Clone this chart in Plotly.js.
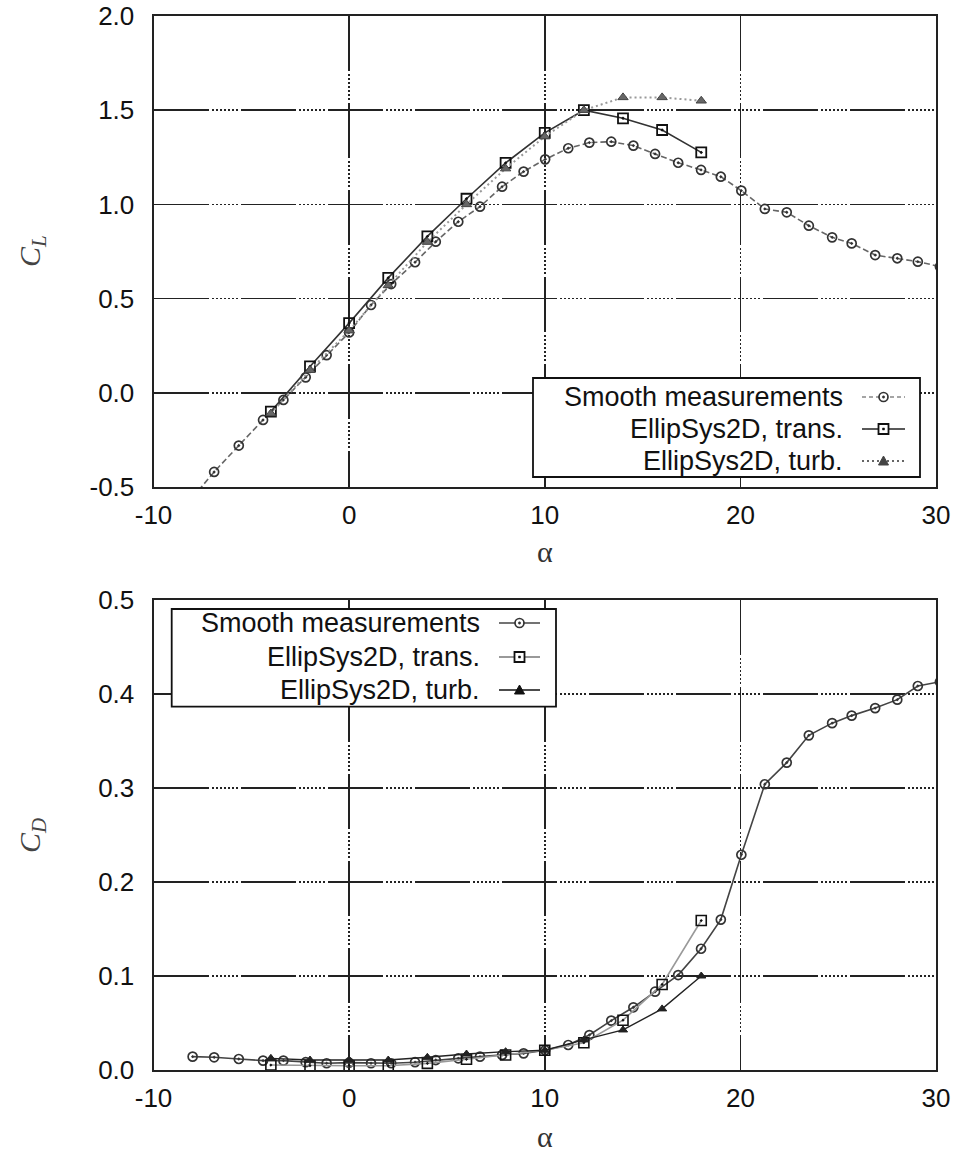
<!DOCTYPE html>
<html>
<head>
<meta charset="utf-8">
<script src="https://cdn.plot.ly/plotly-3.0.1.min.js"></script>
<style>html,body{margin:0;padding:0;background:#fff;}#chart{width:956px;height:1153px;}</style>
</head>
<body>
<div id="chart"></div>
<script>
// ---- data ----
const alphaMeas = [-8,-6.9,-5.64,-4.4,-3.36,-2.22,-1.15,0,1.12,2.15,3.37,4.43,5.58,6.69,7.82,8.92,10.02,11.2,12.28,13.4,14.53,15.64,16.82,17.99,19.0,20.05,21.25,22.37,23.5,24.69,25.69,26.89,28.02,29.07,30.2];
const clMeas = [-0.555,-0.42,-0.28,-0.144,-0.038,0.082,0.20,0.32,0.466,0.577,0.693,0.802,0.908,0.988,1.094,1.174,1.239,1.298,1.328,1.333,1.312,1.268,1.221,1.183,1.147,1.073,0.976,0.958,0.887,0.825,0.793,0.731,0.714,0.696,0.67];
const cdMeas = [0.0142,0.0135,0.0117,0.010,0.010,0.0083,0.0072,0.0078,0.0072,0.0072,0.0083,0.0106,0.0124,0.0142,0.016,0.0177,0.021,0.0266,0.0372,0.0525,0.0667,0.0833,0.101,0.129,0.160,0.229,0.304,0.327,0.356,0.369,0.377,0.385,0.394,0.4085,0.413];
const alphaSim = [-4,-2,0,2,4,6,8,10,12,14,16,18];
const clTrans = [-0.10,0.14,0.37,0.61,0.83,1.03,1.22,1.38,1.50,1.457,1.395,1.276];
const clTurb  = [-0.11,0.12,0.33,0.57,0.80,1.00,1.19,1.36,1.50,1.568,1.568,1.55];
const cdTrans = [0.0053,0.0046,0.0046,0.0046,0.0071,0.0114,0.016,0.021,0.029,0.053,0.091,0.159];
const cdTurb  = [0.0124,0.0106,0.0106,0.0106,0.0135,0.017,0.0195,0.021,0.032,0.0426,0.065,0.100];
const seriesNames = ["Smooth measurements", "EllipSys2D, trans.", "EllipSys2D, turb."];
const xTickVals = [-10, 0, 10, 20, 30];
const xTickText = ["-10", "0", "10", "20", "30"];
const clTickVals = [-0.5, 0, 0.5, 1.0, 1.5, 2.0];
const clTickText = ["-0.5", "0.0", "0.5", "1.0", "1.5", "2.0"];
const cdTickVals = [0, 0.1, 0.2, 0.3, 0.4, 0.5];
const cdTickText = ["0.0", "0.1", "0.2", "0.3", "0.4", "0.5"];

// ---- layout helpers ----
const W = 956, H = 1153;
const px = x => x / W;
const py = y => 1 - y / H;

const traces = [
  {x: alphaMeas, y: clMeas, xaxis:'x', yaxis:'y', name: seriesNames[0], mode:'lines+markers',
   line:{color:'#666', width:1.6, dash:'6px,3px'},
   marker:{symbol:'circle-open-dot', size:9, color:'#333', line:{width:1.7}}},
  {x: alphaSim, y: clTrans, xaxis:'x', yaxis:'y', name: seriesNames[1], mode:'lines+markers',
   line:{color:'#333', width:1.6},
   marker:{symbol:'square-open-dot', size:10, color:'#111', line:{width:1.8}}},
  {x: alphaSim, y: clTurb, xaxis:'x', yaxis:'y', name: seriesNames[2], mode:'lines+markers',
   line:{color:'#999', width:2, dash:'2px,3px'},
   marker:{symbol:'triangle-up', size:9, color:'#666', line:{width:1, color:'#444'}}},
  {x: alphaMeas, y: cdMeas, xaxis:'x2', yaxis:'y2', name: seriesNames[0], mode:'lines+markers',
   line:{color:'#444', width:1.6},
   marker:{symbol:'circle-open-dot', size:9, color:'#333', line:{width:1.7}}},
  {x: alphaSim, y: cdTrans, xaxis:'x2', yaxis:'y2', name: seriesNames[1], mode:'lines+markers',
   line:{color:'#999', width:1.6},
   marker:{symbol:'square-open-dot', size:10, color:'#111', line:{width:1.6}}},
  {x: alphaSim, y: cdTurb, xaxis:'x2', yaxis:'y2', name: seriesNames[2], mode:'lines+markers',
   line:{color:'#222', width:1.4},
   marker:{symbol:'triangle-up', size:8, color:'#222', line:{width:1, color:'#222'}}}
];

const gridDash = "55px,3px,2px,2px,2px,2px,2px,2px,2px,2px,2px,2px,2px,2px,2px,3px";
const tickFont = {family:'Liberation Sans, Arial, sans-serif', size:26, color:'#111'};
const xDomain = [px(153.5), px(936)];
function xAxis(anchor){
  return {domain:xDomain, anchor:anchor, range:[-10,30], tickmode:'array', tickvals:xTickVals, ticktext:xTickText,
    showgrid:true, gridcolor:'#222', gridwidth:1.6, griddash:gridDash, zeroline:false,
    showline:true, mirror:true, linecolor:'#222', linewidth:2, ticks:'', ticklabelstandoff:4,
    tickfont:tickFont};
}
function yAxis(anchor, domain, range, vals, text){
  return {domain:domain, anchor:anchor, range:range, tickmode:'array', tickvals:vals, ticktext:text,
    showgrid:true, gridcolor:'#222', gridwidth:1.6, griddash:gridDash, zeroline:false,
    showline:true, mirror:true, linecolor:'#222', linewidth:2, ticks:'', ticklabelstandoff:12,
    tickfont:tickFont};
}

const shapes = [];
const annotations = [];
const legFont = {family:'Liberation Sans, Arial, sans-serif', size:27, color:'#111'};

function addLegend(box, textRight, sx0, sx1, rows, styles){
  shapes.push({type:'rect', xref:'paper', yref:'paper', x0:px(box[0]), x1:px(box[2]), y0:py(box[1]), y1:py(box[3]),
    fillcolor:'#fff', line:{color:'#111', width:1.8}, layer:'above'});
  rows.forEach((ry, i) => {
    annotations.push({xref:'paper', yref:'paper', x:px(textRight), y:py(ry), xanchor:'right', yanchor:'middle',
      text: seriesNames[i], showarrow:false, font:legFont});
    const st = styles[i];
    shapes.push({type:'line', xref:'paper', yref:'paper', x0:px(sx0), x1:px(sx1), y0:py(ry), y1:py(ry),
      line:{color:st.color, width:st.width, dash:st.dash}, layer:'above'});
    const cx = (sx0 + sx1) / 2;
    if (st.m === 'circle') {
      shapes.push({type:'circle', xref:'paper', yref:'paper', x0:px(cx-4.5), x1:px(cx+4.5), y0:py(ry-4.5), y1:py(ry+4.5),
        fillcolor:'#fff', line:{color:'#333', width:1.7}, layer:'above'});
      shapes.push({type:'circle', xref:'paper', yref:'paper', x0:px(cx-1.2), x1:px(cx+1.2), y0:py(ry-1.2), y1:py(ry+1.2),
        fillcolor:'#333', line:{color:'#333', width:0.5}, layer:'above'});
    } else if (st.m === 'square') {
      shapes.push({type:'rect', xref:'paper', yref:'paper', x0:px(cx-5), x1:px(cx+5), y0:py(ry-5), y1:py(ry+5),
        fillcolor:'#fff', line:{color:'#111', width:1.8}, layer:'above'});
      shapes.push({type:'rect', xref:'paper', yref:'paper', x0:px(cx-1), x1:px(cx+1), y0:py(ry-1), y1:py(ry+1),
        fillcolor:'#111', line:{color:'#111', width:0.5}, layer:'above'});
    } else {
      const p = `M ${px(cx-5)} ${py(ry+4)} L ${px(cx+5)} ${py(ry+4)} L ${px(cx)} ${py(ry-5)} Z`;
      shapes.push({type:'path', xref:'paper', yref:'paper', path:p, fillcolor:st.mc, line:{color:st.mc, width:1}, layer:'above'});
    }
  });
}

addLegend([533, 378, 920, 477], 845, 862, 905, [397, 429, 461], [
  {color:'#888', width:1.6, dash:'4px,3px', m:'circle'},
  {color:'#222', width:1.6, dash:'solid', m:'square'},
  {color:'#333', width:1.6, dash:'2px,3px', m:'tri', mc:'#444'}
]);
addLegend([171.7, 609, 556, 706.7], 482, 499, 540, [623, 657, 690], [
  {color:'#444', width:1.6, dash:'solid', m:'circle'},
  {color:'#999', width:1.8, dash:'solid', m:'square'},
  {color:'#111', width:1.6, dash:'solid', m:'tri', mc:'#111'}
]);

// axis titles
const titleFont = {family:'Liberation Serif, Times New Roman, serif', size:30, color:'#333'};
const yTitleFont = {family:'Liberation Serif, Times New Roman, serif', size:30, color:'#444'};
annotations.push({xref:'paper', yref:'paper', x:px(545), y:py(551), text:'α', showarrow:false, font:titleFont, xanchor:'center', yanchor:'middle'});
annotations.push({xref:'paper', yref:'paper', x:px(545), y:py(1136), text:'α', showarrow:false, font:titleFont, xanchor:'center', yanchor:'middle'});
annotations.push({xref:'paper', yref:'paper', x:px(32), y:py(251), text:'<i>C</i><sub><i>L</i></sub>', textangle:-90, showarrow:false,
  font:yTitleFont, xanchor:'center', yanchor:'middle'});
annotations.push({xref:'paper', yref:'paper', x:px(32), y:py(835), text:'<i>C</i><sub><i>D</i></sub>', textangle:-90, showarrow:false,
  font:yTitleFont, xanchor:'center', yanchor:'middle'});

const layout = {
  width: W, height: H, margin:{l:0, r:0, t:0, b:0}, paper_bgcolor:'#fff', plot_bgcolor:'#fff',
  showlegend:false,
  font:{family:'Liberation Sans, Arial, sans-serif', color:'#111'},
  xaxis: xAxis('y'),
  xaxis2: xAxis('y2'),
  yaxis: yAxis('x', [py(487), py(16)], [-0.5, 2.0], clTickVals, clTickText),
  yaxis2: yAxis('x2', [py(1070), py(600)], [0, 0.5], cdTickVals, cdTickText),
  shapes: shapes,
  annotations: annotations
};

Plotly.newPlot('chart', traces, layout, {displayModeBar:false, staticPlot:true});
</script>
</body>
</html>
